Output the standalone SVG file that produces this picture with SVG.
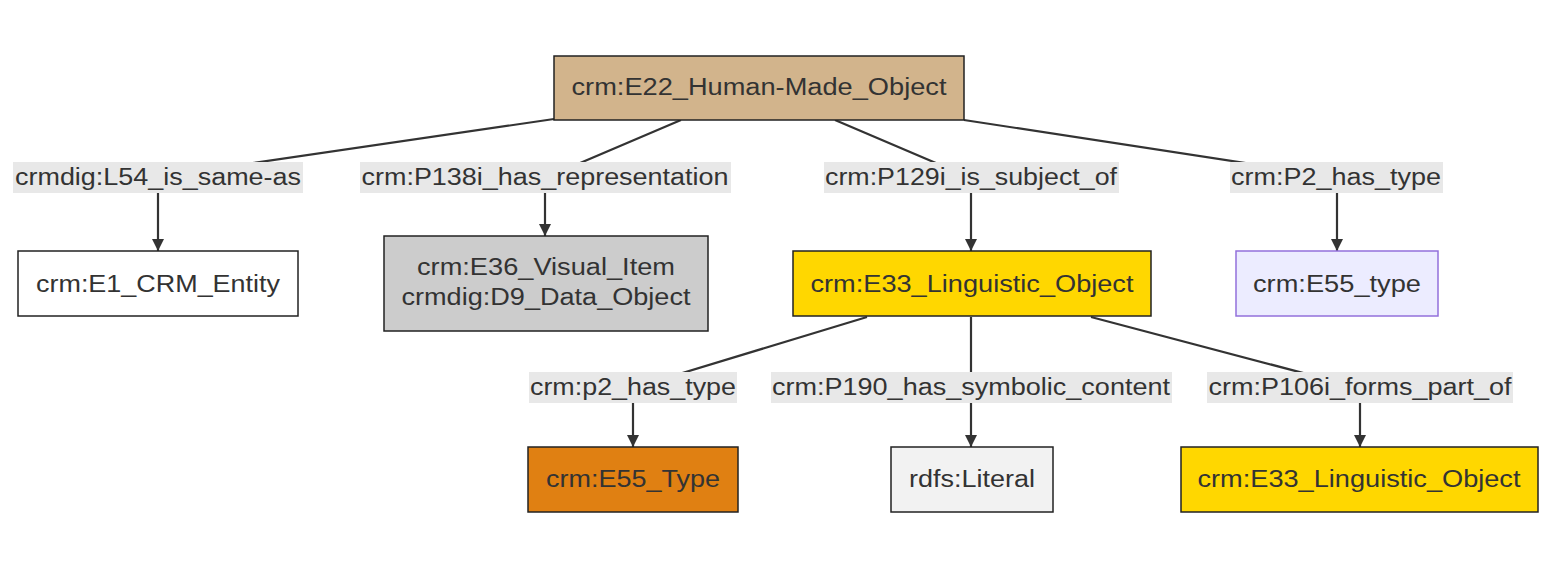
<svg xmlns="http://www.w3.org/2000/svg" width="1568" height="568" viewBox="0 0 1568 568">
<defs>
<style>
.node rect{stroke:#222;stroke-width:1.5}
text{font-family:"Liberation Sans",Arial,sans-serif;font-size:23px;fill:#333;text-anchor:middle}
.lbl rect{fill:#e8e8e8;stroke:none}
.edge{fill:none;stroke:#333;stroke-width:2.2}
</style>
<marker id="arr" viewBox="0 0 10 10" refX="10" refY="5" markerUnits="userSpaceOnUse" markerWidth="12" markerHeight="12" orient="auto">
<path d="M0,0 L10,5 L0,10 z" fill="#333"/>
</marker>
</defs>
<rect width="1568" height="568" fill="#fff"/>
<g id="connectors">
<path class="edge" d="M554,119 L158,177 L158,251" marker-end="url(#arr)"/>
<path class="edge" d="M681,120 L545,178 L545,236" marker-end="url(#arr)"/>
<path class="edge" d="M835,120 L971,178 L971,251" marker-end="url(#arr)"/>
<path class="edge" d="M964,120 L1337,177 L1337,251" marker-end="url(#arr)"/>
<path class="edge" d="M867,317 L633,388 L633,447" marker-end="url(#arr)"/>
<path class="edge" d="M971,317 L971,447" marker-end="url(#arr)"/>
<path class="edge" d="M1091,317 L1360,388 L1360,447" marker-end="url(#arr)"/>
</g>
<g id="edge-labels">
<g class="lbl"><rect x="13" y="162" width="290" height="31"/><text x="158" y="185" textLength="286" lengthAdjust="spacingAndGlyphs">crmdig:L54_is_same-as</text></g>
<g class="lbl"><rect x="360" y="162" width="371" height="31"/><text x="545" y="185" textLength="367" lengthAdjust="spacingAndGlyphs">crm:P138i_has_representation</text></g>
<g class="lbl"><rect x="824" y="162" width="295" height="31"/><text x="971" y="185" textLength="292" lengthAdjust="spacingAndGlyphs">crm:P129i_is_subject_of</text></g>
<g class="lbl"><rect x="1230" y="162" width="213" height="31"/><text x="1336" y="185" textLength="210" lengthAdjust="spacingAndGlyphs">crm:P2_has_type</text></g>
<g class="lbl"><rect x="529" y="372" width="208" height="31"/><text x="633" y="395" textLength="206" lengthAdjust="spacingAndGlyphs">crm:p2_has_type</text></g>
<g class="lbl"><rect x="771" y="372" width="401" height="31"/><text x="971" y="395" textLength="398" lengthAdjust="spacingAndGlyphs">crm:P190_has_symbolic_content</text></g>
<g class="lbl"><rect x="1207" y="372" width="306" height="31"/><text x="1360" y="395" textLength="303" lengthAdjust="spacingAndGlyphs">crm:P106i_forms_part_of</text></g>
</g>
<g id="n-e22" class="node"><rect x="554" y="56" width="410" height="64" fill="#D2B48C"/><text x="759" y="95" textLength="375" lengthAdjust="spacingAndGlyphs">crm:E22_Human-Made_Object</text></g>
<g id="n-e1" class="node"><rect x="18" y="251" width="280" height="65" fill="#fff"/><text x="158" y="291.5" textLength="244" lengthAdjust="spacingAndGlyphs">crm:E1_CRM_Entity</text></g>
<g id="n-e36" class="node"><rect x="384" y="236" width="324" height="95" fill="#ccc"/><text x="546" y="275" textLength="258" lengthAdjust="spacingAndGlyphs">crm:E36_Visual_Item</text><text x="546" y="305" textLength="289" lengthAdjust="spacingAndGlyphs">crmdig:D9_Data_Object</text></g>
<g id="n-e33a" class="node"><rect x="793" y="251" width="358" height="65" fill="#FFD700"/><text x="972" y="291.5" textLength="323" lengthAdjust="spacingAndGlyphs">crm:E33_Linguistic_Object</text></g>
<g id="n-e55a" class="node"><rect x="1236" y="251" width="202" height="65" fill="#ECECFF" style="stroke:#9370DB"/><text x="1337" y="291.5" textLength="168" lengthAdjust="spacingAndGlyphs">crm:E55_type</text></g>
<g id="n-e55b" class="node"><rect x="528" y="447" width="210" height="65" fill="#E08012"/><text x="633" y="487" textLength="174" lengthAdjust="spacingAndGlyphs">crm:E55_Type</text></g>
<g id="n-lit" class="node"><rect x="891" y="447" width="162" height="65" fill="#F2F2F2"/><text x="972" y="487" textLength="126" lengthAdjust="spacingAndGlyphs">rdfs:Literal</text></g>
<g id="n-e33b" class="node"><rect x="1181" y="447" width="357" height="65" fill="#FFD700"/><text x="1359" y="487" textLength="323" lengthAdjust="spacingAndGlyphs">crm:E33_Linguistic_Object</text></g>
</svg>
